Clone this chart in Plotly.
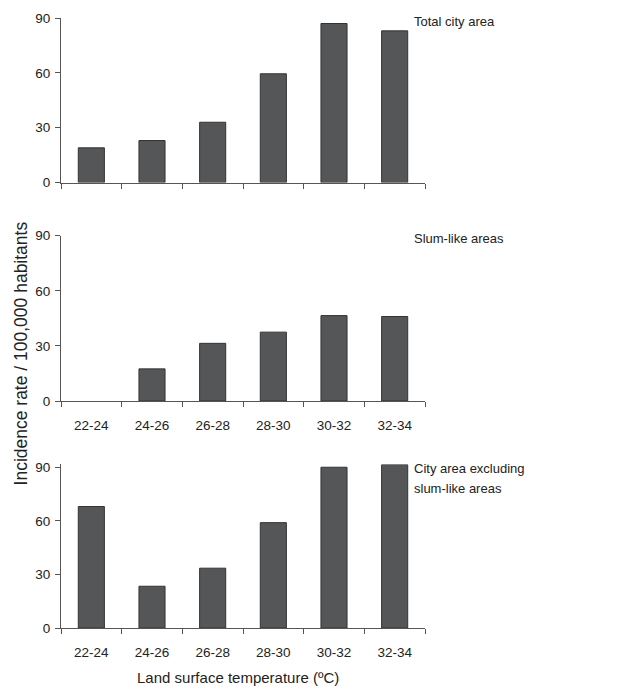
import plotly.graph_objects as go

categories = ["22-24", "24-26", "26-28", "28-30", "30-32", "32-34"]
total_city = [19, 23, 33, 59.5, 87, 83]
slum_like = [0, 17.5, 31.4, 37.5, 46.5, 46]
excluding_slum = [68, 23.4, 33.5, 59, 90, 91.5]
panel_labels = [["Total city area"], ["Slum-like areas"], ["City area excluding", "slum-like areas"]]
y_ticks = [0, 30, 60, 90]
y_max = [90, 90, 91.6]

W, H = 640, 689
x_dom = [53 / W, 417 / W]
# (px of value 90, px of value 0) per panel, figure pixels from top
panels_px = [(3.1, 171.3), (225.6, 394.6), (462.3, 626.7)]
label_px = [[6.2], [228.7], [463.6, 483.8]]

fig = go.Figure()
series = [total_city, slum_like, excluding_slum]
FONT = "Liberation Sans, Arial, sans-serif"
TXT = "#222222"
AX = "#555555"

for i, vals in enumerate(series):
    idx = "" if i == 0 else str(i + 1)
    fig.add_trace(go.Bar(
        x=categories, y=vals,
        xaxis="x" + idx, yaxis="y" + idx,
        marker=dict(color="#555658",
                    line=dict(color="#333333", width=[1 if v > 0 else 0 for v in vals])),
        showlegend=False,
    ))
    p90, p0 = panels_px[i]
    ppu = (p0 - p90) / 90.0
    top = p0 - ppu * y_max[i]
    ydom = [1 - p0 / H, 1 - top / H]
    fig.layout["xaxis" + idx] = dict(
        domain=x_dom, anchor="y" + idx, type="category",
        range=[-0.5, 5.5], tickson="boundaries",
        ticks="outside", ticklen=5, tickcolor=AX,
        showline=True, linecolor=AX, linewidth=1,
        showgrid=False, zeroline=False,
        showticklabels=(i != 0), ticklabelstandoff=12,
        tickfont=dict(family=FONT, size=13.5, color=TXT),
    )
    fig.layout["yaxis" + idx] = dict(
        domain=ydom, anchor="x" + idx, range=[0, y_max[i]],
        tickvals=y_ticks, ticks="outside", ticklen=5, tickcolor=AX,
        showline=True, linecolor=AX, linewidth=1,
        showgrid=False, zeroline=False, ticklabelstandoff=2,
        tickfont=dict(family=FONT, size=13.5, color=TXT),
    )
    for line, ly in zip(panel_labels[i], label_px[i]):
        fig.add_annotation(
            x=404 / W, y=1 - ly / H, xref="paper", yref="paper",
            xanchor="left", yanchor="middle", align="left", showarrow=False,
            text=line, font=dict(family=FONT, size=13, color=TXT),
        )

fig.add_annotation(
    x=13 / W, y=1 - 346 / H, xref="paper", yref="paper",
    xanchor="center", yanchor="middle",
    text="Incidence rate / 100,000 habitants", textangle=-90,
    showarrow=False, font=dict(family=FONT, size=17.5, color=TXT),
)
fig.add_annotation(
    x=230 / W, y=1 - 677 / H, xref="paper", yref="paper",
    xanchor="center", yanchor="middle",
    text="Land surface temperature (ºC)",
    showarrow=False, font=dict(family=FONT, size=15, color=TXT),
)

fig.update_layout(
    width=W, height=H, margin=dict(l=0, r=0, t=0, b=0),
    plot_bgcolor="white", paper_bgcolor="white", bargap=0.57,
)
fig.write_html("out.html")
